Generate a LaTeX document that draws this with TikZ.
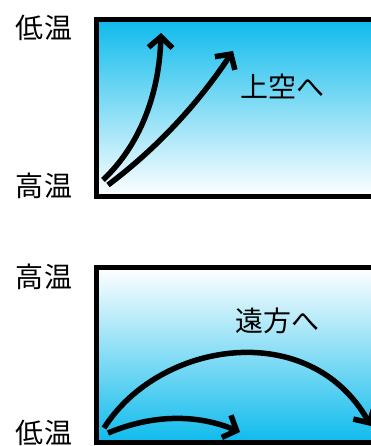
\documentclass[tikz,border=0pt]{standalone}
\usepackage{fontspec}
\setmainfont{Noto Sans CJK JP}
\usetikzlibrary{arrows.meta}
\definecolor{sky}{RGB}{14,187,236}
\tikzset{
  lbl/.style={inner sep=0pt, font=\fontsize{28}{30}\selectfont},
  frame/.style={line width=5pt},
  flow/.style={line width=5.5pt, -{Straight Barb[length=11pt,width=24pt,line join=miter]}}
}
\begin{document}
\begin{tikzpicture}[x=1pt,y=-1pt]
\useasboundingbox (0,0) rectangle (371,446);
\clip (0,0) rectangle (371,446);
% top box
\shade[top color=sky, bottom color=white] (96.5,19.5) rectangle (390,196.5);
\draw[frame] (96.5,19.5) rectangle (390,196.5);
% bottom box
\shade[top color=white, bottom color=sky] (96.5,267.5) rectangle (390,442.5);
\draw[frame] (96.5,267.5) rectangle (390,442.5);
% labels
\node[lbl] (lowA) at (44,27.5) {低温};
\node[lbl] (highA) at (44,186) {高温};
\node[lbl] (highB) at (44,277) {高温};
\node[lbl] (lowB) at (44,433) {低温};
\node[lbl] (up) at (282,86) {上空へ};
\node[lbl] (far) at (277,321) {遠方へ};
% coordinates
\coordinate (a1s) at (103,180);
\coordinate (a1e) at (161,33);
\coordinate (a2s) at (108,185);
\coordinate (a2e) at (233,51);
\coordinate (b1s) at (104,428);
\coordinate (b1e) at (371,426);
\coordinate (b2s) at (108,433);
\coordinate (b2e) at (240,432);
% arrows
\draw[flow] (a1s) .. controls (139,146) and (159,96) .. (a1e);
\draw[flow] (a2s) .. controls (156,149) and (197.7,104.3) .. (a2e);
\draw[flow] (b1s) .. controls (160,340) and (310,318) .. (b1e);
\draw[flow] (b2s) .. controls (152.7,414.3) and (196.7,414) .. (b2e);
\end{tikzpicture}
\end{document}
